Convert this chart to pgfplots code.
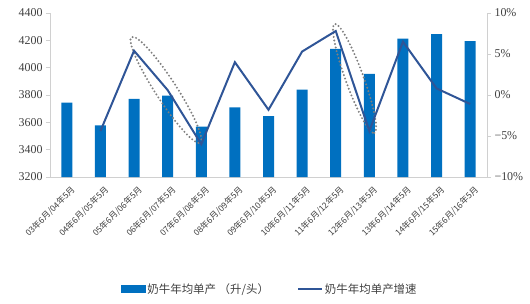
\documentclass[border=0pt]{standalone}
\usepackage{fontspec}
\setmainfont{Liberation Serif}
\newfontfamily\cjk{Noto Sans CJK SC}
\usepackage{pgfplots}
\pgfplotsset{compat=1.18}
\usetikzlibrary{shapes.geometric}
\definecolor{barblue}{HTML}{0070C0}
\definecolor{lineblue}{HTML}{2F5597}
\definecolor{axgray}{HTML}{D0D0D0}
\definecolor{txtgray}{HTML}{404040}
\definecolor{dotgray}{HTML}{7F7F7F}
\begin{document}
\begin{tikzpicture}
\useasboundingbox (-50bp,-127bp) rectangle (480bp,177bp);
\begin{axis}[
  at={(0bp,0bp)}, anchor=south west, scale only axis,
  width=437bp, height=164bp,
  xmin=-0.5, xmax=12.5, ymin=3200, ymax=4400,
  ytick={3200,3400,...,4400},
  axis y line*=left, axis x line*=bottom,
  axis line style={axgray, line width=0.6bp},
  every tick/.style={axgray, line width=0.6bp},
  tick align=outside,
  major tick length=4bp,
  xtick={0,...,12},
  x tick style={draw=none},
  minor xtick={-0.5,0.5,...,12.5},
  minor tick length=4bp,
  xticklabels={03年6月/04年5月,04年6月/05年5月,05年6月/06年5月,06年6月/07年5月,07年6月/08年5月,08年6月/09年5月,09年6月/10年5月,10年6月/11年5月,11年6月/12年5月,12年6月/13年5月,13年6月/14年5月,14年6月/15年5月,15年6月/16年5月},
  xticklabel style={font=\cjk\fontsize{8.5}{9}\selectfont, text=txtgray, rotate=45, anchor=north east, inner sep=0.5bp, yshift=-5bp},
  yticklabel style={font=\fontsize{12}{12}\selectfont, text=txtgray},
  /pgf/number format/assume math mode=true,
  /pgf/number format/1000 sep={},
  ybar, bar width=11bp,
  clip=false,
]
\addplot[fill=barblue, draw=none] coordinates {
(0,3744) (1,3578) (2,3771) (3,3795) (4,3568) (5,3710) (6,3645)
(7,3839) (8,4137) (9,3954) (10,4212) (11,4246) (12,4195)};
\node[draw=dotgray, line width=2.2bp, dash pattern=on 0bp off 3.6bp, line cap=round,
  ellipse, minimum width=126bp, minimum height=21bp, inner sep=0pt, rotate=-57]
  at (axis cs:2.95,3837) {};
\node[draw=dotgray, line width=2.2bp, dash pattern=on 0bp off 3.6bp, line cap=round,
  ellipse, minimum width=116bp, minimum height=18bp, inner sep=0pt, rotate=-70]
  at (axis cs:8.56,3921) {};
\end{axis}
\begin{axis}[
  at={(0bp,0bp)}, anchor=south west, scale only axis,
  width=437bp, height=164bp,
  xmin=-0.5, xmax=12.5, ymin=-10, ymax=10,
  axis x line=none, axis y line*=right,
  axis line style={axgray, line width=0.6bp},
  every tick/.style={axgray, line width=0.6bp},
  tick align=outside, major tick length=4bp,
  ytick={-10,-5,0,5,10},
  yticklabels={−10\%,−5\%,0\%,5\%,10\%},
  yticklabel style={font=\fontsize{12}{12}\selectfont, text=txtgray},
  legend style={at={(0.503,-0.683)}, anchor=center, draw=none, fill=none,
    legend columns=2, font=\cjk\fontsize{11.5}{12}\selectfont, text=txtgray,
    /tikz/every even column/.append style={column sep=26bp}},
  legend cell align=left,
  clip=false,
]
\addlegendimage{legend image code/.code={\fill[barblue] (0bp,-3.5bp) rectangle (24bp,3.5bp);}}
\addlegendentry{奶牛年均单产 （升/头）}
\addplot[lineblue, line width=2bp, mark=none,
  legend image code/.code={\draw[lineblue, line width=2bp] (0bp,0bp) -- (24bp,0bp);}]
  coordinates {
(1,-4.4) (2,5.4) (3,0.6) (4,-6.0) (5,4.0) (6,-1.8) (7,5.3)
(8,7.8) (9,-4.4) (10,6.5) (11,0.8) (12,-1.1)};
\addlegendentry{奶牛年均单产增速}
\end{axis}
\end{tikzpicture}
\end{document}
